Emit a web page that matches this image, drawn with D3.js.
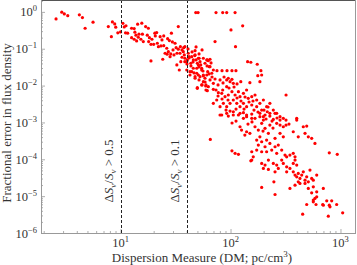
<!DOCTYPE html>
<html><head><meta charset="utf-8">
<script src="https://cdn.jsdelivr.net/npm/d3@7"></script>
<style>html,body{margin:0;padding:0;background:#fff}svg{display:block}</style>
</head><body>
<svg id="chart" width="357" height="265"></svg>
<script>
// x tick values (decades) and y tick exponents
const xMajorTicks = [10, 100, 1000];
const yMajorTicks = [1e-6, 1e-5, 1e-4, 1e-3, 1e-2, 1e-1, 1];
// threshold lines (DM values) and their labels
const thresholdDM = [10, 40];
const thresholdLabels = ["0.5", "0.1"];
// scatter points: [DM, fractional error]
const dmErrPairs = [
[2.59,0.645],[2.92,0.98],[3.08,0.88],[3.31,0.79],[4.22,0.83],[4.5,0.70],[4.76,0.36],[5.62,0.525],[7.74,0.40],[8.43,0.535],[8.85,0.47],[9.04,0.385],[8.25,0.213],[9.44,0.27],
[10.0,0.286],[10.5,0.49],[10.8,0.39],[11.2,0.42],[11.1,0.27],[11.6,0.264],[12.6,0.36],[13.3,0.352],[14.3,0.463],[15.6,0.493],[16.9,0.40],[17.9,0.36],[12.6,0.20],[13.5,0.281],[13.8,0.233],[14.7,0.248],[13.3,0.181],[14.5,0.205],[15.8,0.248],[14.0,0.163],[15.3,0.181],[16.1,0.156],[17.5,0.233],[18.3,0.20],[18.0,0.156],[19.3,0.181],[20.5,0.264],[21.3,0.274],[20.7,0.223],[20.0,0.132],[18.9,0.132],[21.6,0.141],[22.9,0.213],[23.8,0.173],[24.7,0.223],[22.1,0.114],[23.3,0.119],[24.7,0.121],[26.3,0.103],[26.8,0.188],[27.8,0.166],[29.0,0.264],[29.6,0.153],[31.3,0.141],[33.5,0.40],[25.4,0.0755],[27.2,0.0834],[28.6,0.0722],[30.0,0.0927],[32.0,0.107],[33.5,0.097],[35.0,0.114],[36.2,0.0927],[37.5,0.107],[38.0,0.0679],[34.7,0.0755],[32.6,0.0755],[30.6,0.0679],[28.2,0.061],[26.5,0.071],[18.9,0.0466],[24.2,0.0519],[34.2,0.0265],[32.5,0.0363],[35.3,0.0446],[36.2,0.0588],[38.4,0.0446],[40.5,0.0496],[42.0,0.061],[43.5,0.0404],[45.9,0.0496],[47.3,0.065],[49.9,0.0404],[49.3,0.0295],[51.8,0.0552],[53.6,0.0363],[54.7,0.0265],[51.0,0.0194],[56.6,0.0194],[58.6,0.0158],[61.5,0.0496],[62.0,0.0239],[64.1,0.0326],[49.9,0.00877],[55.1,0.0104],[59.5,0.00975],[61.5,0.00727],[40.0,0.0265],[44.4,0.0239],[47.6,0.0175],[42.8,0.0194],[48.3,0.957],[50.7,0.957],
[73.8,0.957],[84.9,0.957],[92.3,0.957],[110,0.957],[129,0.417],[101,0.324],[72.3,0.156],[111,0.114],[143,0.0446],[153,0.043],[175,0.0379],[189,0.0254],[177,0.0186],[192,0.0194],[185,0.0128],
[75.3,0.0254],[83.7,0.0254],[92.9,0.0254],[103,0.0254],[112,0.0254],
[320,0.00556],[150,0.012],[124,0.0128],[103,0.0148],[95.5,0.0158],[92.3,0.0142],[99,0.0128],[106,0.0115],[92.3,0.00933],[84.9,0.00759],[80.3,0.0142],[69.8,0.0115],[65.1,0.0142],[62.8,0.00933],[59.8,0.0104],[56.6,0.0128],[52.8,0.0175],[49.3,0.0216],[45.9,0.0295],[42.8,0.0239],[51.0,0.0363],[54.7,0.0295],[58.6,0.0404],[62.8,0.0475],[65.1,0.0326],[69.8,0.0265],[67.5,0.0216],[60.8,0.0194],[56.6,0.0182],[47.6,0.0158],[49.9,0.00845],[54.7,0.0104],[59.8,0.00759],[69.8,0.00794],[73.8,0.00759],[77.5,0.00641],[83.2,0.00618],[89.1,0.00499],[95.5,0.00556],[103,0.00683],[110,0.00556],[118,0.00683],[122,0.00499],[131,0.00618],[140,0.00759],[145,0.00452],[156,0.00499],[167,0.00556],[173,0.00406],[185,0.0033],[199,0.00406],[213,0.00267],[228,0.0033],[245,0.00217],[263,0.00177],[282,0.00143],[302,0.00129],[228,0.00177],[206,0.00159],[192,0.00217],[173,0.00267],[156,0.00297],[140,0.00267],[131,0.0033],[122,0.00267],[114,0.0033],[106,0.00406],[99,0.0033],[92.3,0.00267],[86.1,0.0033],[80.3,0.00267],[74.9,0.00406],[69.8,0.0033],[80.3,0.00159],[92.3,0.00177],[106,0.00159],[122,0.00177],[140,0.00159],[156,0.00129],[185,0.00143],[131,0.00129],[199,0.00116],[400,0.00129],[38.5,0.114],[37.2,0.0834],[41.3,0.0755],[44.4,0.061],[38.5,0.0552],[40.0,0.0446],[47.6,0.0679],[51.0,0.0552],[52.8,0.0446],[56.6,0.0552],[60.8,0.0496],[47.6,0.0888],[65.1,0.0519],
[83.2,0.00159],[95.5,0.00149],[106,0.00195],[118,0.00159],[131,0.00184],[140,0.00143],[156,0.00169],[167,0.00129],[185,0.00177],[199,0.00143],[216,0.00195],[228,0.00149],[245,0.00121],[263,0.000946],[282,0.000849],[302,0.000764],[320,0.000849],[282,0.00116],[254,0.00177],[122,0.000764],[126,0.000621],[140,0.000559],[135,0.000455],[150,0.000506],[167,0.000764],[179,0.000621],[192,0.000946],[206,0.000691],[221,0.000506],[228,0.000849],[185,0.000408],[173,0.000333],[192,0.000299],[213,0.000333],[228,0.00027],[254,0.00037],[272,0.000243],[282,0.000506],[302,0.000408],[206,0.000219],[179,0.000243],[173,0.000178],[156,0.00016],[161,0.000117],[156,0.000095],[192,0.00016],[213,0.00016],[237,0.000178],[254,0.000219],[263,0.000145],[292,0.000178],[313,0.00013],[324,0.000117],[347,0.00013],[372,0.000145],[386,0.000117],[400,0.00116],[372,0.000559],[413,0.000408],[459,0.000764],[493,0.000798],[476,0.000506],[510,0.000408],[547,0.00037],[586,0.00027],[65.5,0.000347],[103,0.00017],[110,0.000145],[118,0.000136],[153,9.1e-5],[192,7.7e-5],[206,6.95e-5],[221,9.5e-5],[199,5.66e-5],[221,5.32e-5],[245,7.7e-5],[263,6.95e-5],[272,5.66e-5],[254,4.57e-5],[292,9.5e-5],[302,7.7e-5],[324,6.25e-5],[347,5.66e-5],[372,7.7e-5],[386,9.5e-5],[400,6.95e-5],[324,4.57e-5],[372,4.57e-5],[386,3.72e-5],[400,3.34e-5],[413,4.14e-5],[428,3.03e-5],[444,3.72e-5],[459,4.57e-5],[476,2.72e-5],[493,3.34e-5],[510,2.45e-5],[528,5.09e-5],[547,3.03e-5],[566,2.72e-5],[608,3.72e-5],[413,2.45e-5],[347,1.62e-5],[386,1.99e-5],[428,2.21e-5],[476,2.21e-5],[510,1.62e-5],[566,1.79e-5],[608,1.31e-5],[698,1.62e-5],[547,1.23e-5],[586,8.65e-6],[608,9.6e-6],[566,7.0e-6],[493,5.94e-6],[698,5.69e-6],[750,7.45e-6],[791,5.69e-6],[832,7.45e-6],[803,5.12e-6],[923,5.94e-6],[775,2.86e-6],[1047,3.52e-6],[453,3.24e-6],[254,1.11e-5],[248,2.45e-5],[192,1.72e-5],[791,0.00015],[935,0.000136],
[566,7.8e-6],[599,5.94e-6],[689,5.94e-6],
[41.1,0.0988],[44.7,0.0819],[48.6,0.112],[51.7,0.0722],[55.1,0.0927],[42.0,0.0562],[45.6,0.0438],[48.6,0.0496],[51.7,0.032],[56.2,0.0249],[61.2,0.0341],[66.5,0.0411],[67.9,0.0171],[58.7,0.0125],[51.7,0.0142],[43.7,0.0341],[40.2,0.0386],[46.6,0.022],[63.8,0.0207],[72.3,0.0151],[77.0,0.0104],[85.5,0.0118],[87.3,0.0171],[96.9,0.0086],[107.6,0.00916],[114.6,0.0111],[77.0,0.00522],[83.7,0.00432],[94.9,0.00406],[114.6,0.0046],[124.5,0.00382],[135.5,0.0049],[147.3,0.00358],[160.1,0.00382],[163.5,0.00217],[177.8,0.00192],[201.6,0.00217],[219.4,0.00262],[210.3,0.00124],[238.5,0.00109],[264.7,0.00132],[319.6,0.00116],[340.2,0.000905],[243.4,0.000705],[197.5,0.000584],[156.8,0.00103],[144.2,0.000905],[112.2,0.00109],[103.2,0.000964],[132.7,0.00231],[112.2,0.00231],[91.0,0.00217],[98.96,0.00204]
];

const svg = d3.select("#chart");
const L = 41, R = 356, T = 0, B = 233;
const x = d3.scaleLog().domain([1.89, 1384]).range([L, R]);
const y = d3.scaleLog().domain([1e-6, 2.1]).range([B, T]);
const font = "'Liberation Serif', 'DejaVu Serif', serif";
const axisCol = "#999";
const textCol = "#333";

// Minor ticks
const xMinor = x.ticks().filter(v => !xMajorTicks.includes(v));
const yMinor = y.ticks().filter(v => !yMajorTicks.some(m => Math.abs(m - v) / m < 1e-9));

function styleAxis(g) {
  g.select(".domain").remove();
  g.selectAll("line").attr("stroke", axisCol).attr("stroke-width", 0.8);
  g.selectAll("text").remove();
}
svg.append("g").attr("transform", `translate(0,${B})`)
  .call(d3.axisBottom(x).tickValues(xMajorTicks).tickSize(-4)).call(styleAxis);
svg.append("g").attr("transform", `translate(0,${B})`)
  .call(d3.axisBottom(x).tickValues(xMinor).tickSize(-2)).call(styleAxis);
svg.append("g").attr("transform", `translate(${L},0)`)
  .call(d3.axisLeft(y).tickValues(yMajorTicks).tickSize(-4)).call(styleAxis);
svg.append("g").attr("transform", `translate(${L},0)`)
  .call(d3.axisLeft(y).tickValues(yMinor).tickSize(-2)).call(styleAxis);

// Points
svg.append("g").selectAll("circle").data(dmErrPairs).join("circle")
  .attr("cx", d => x(d[0])).attr("cy", d => y(d[1])).attr("r", 1.6)
  .attr("fill", "#ff0000");

// Threshold lines
svg.append("g").selectAll("line").data(thresholdDM).join("line")
  .attr("x1", d => Math.round(x(d)) + 0.5).attr("x2", d => Math.round(x(d)) + 0.5)
  .attr("y1", T).attr("y2", B)
  .attr("stroke", "#222").attr("stroke-width", 1).attr("stroke-dasharray", "3,2");

// Threshold labels
thresholdDM.forEach((d, i) => {
  const t = svg.append("text")
    .attr("transform", `translate(${x(d) - 8},171) rotate(-90)`)
    .attr("text-anchor", "middle").attr("font-family", font).attr("font-size", 13)
    .attr("fill", textCol);
  t.append("tspan").text("Δ");
  t.append("tspan").attr("font-style", "italic").text("S");
  t.append("tspan").attr("font-style", "italic").attr("font-size", 9).attr("dy", 3).text("ν");
  t.append("tspan").attr("dy", -3).text("/");
  t.append("tspan").attr("font-style", "italic").text("S");
  t.append("tspan").attr("font-style", "italic").attr("font-size", 9).attr("dy", 3).text("ν");
  t.append("tspan").attr("dy", -3).text(" > " + thresholdLabels[i]);
});

// Frame
svg.append("line").attr("x1", L).attr("x2", R).attr("y1", 0.5).attr("y2", 0.5).attr("stroke", "#555");
svg.append("line").attr("x1", L).attr("x2", R).attr("y1", B + 0.5).attr("y2", B + 0.5).attr("stroke", axisCol);
svg.append("line").attr("x1", L + 0.5).attr("x2", L + 0.5).attr("y1", 0).attr("y2", B + 1).attr("stroke", axisCol);
svg.append("line").attr("x1", R - 0.5).attr("x2", R - 0.5).attr("y1", 0).attr("y2", B + 1).attr("stroke", axisCol);

// Tick labels
xMajorTicks.forEach(v => {
  const t = svg.append("text").attr("x", x(v)).attr("y", 247)
    .attr("text-anchor", "middle").attr("font-family", font).attr("font-size", 12.5).attr("fill", textCol);
  t.append("tspan").text("10");
  t.append("tspan").attr("font-size", 8.5).attr("dy", -5).text(Math.round(Math.log10(v)));
});
yMajorTicks.forEach(v => {
  const e = Math.round(Math.log10(v));
  const t = svg.append("text").attr("x", 37).attr("y", y(v) + 4.5)
    .attr("text-anchor", "end").attr("font-family", font).attr("font-size", 12.5).attr("fill", textCol);
  t.append("tspan").text("10");
  t.append("tspan").attr("font-size", 8.5).attr("dy", -5).text(e === 0 ? "0" : "\u2212" + Math.abs(e));
});

// Axis titles
const xl = svg.append("text").attr("x", 202).attr("y", 262).attr("text-anchor", "middle")
  .attr("font-family", font).attr("font-size", 13).attr("fill", textCol);
xl.append("tspan").text("Dispersion Measure (DM; pc/cm");
xl.append("tspan").attr("font-size", 9).attr("dy", -5).text("3");
xl.append("tspan").attr("dy", 5).text(")");

svg.append("text").attr("transform", "translate(11,123) rotate(-90)").attr("text-anchor", "middle")
  .attr("font-family", font).attr("font-size", 13).attr("fill", textCol)
  .text("Fractional error in flux density");
</script>
</body></html>
